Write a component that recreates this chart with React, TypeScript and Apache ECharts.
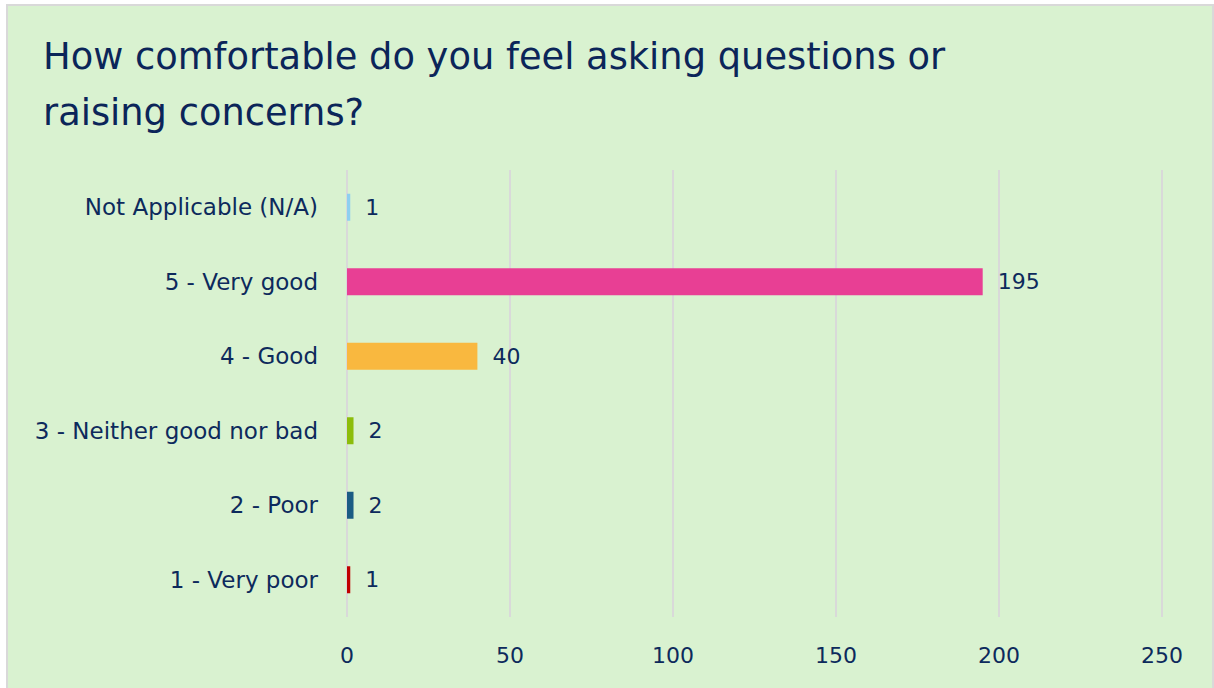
import React, { useEffect, useRef } from "react";
import * as echarts from "echarts";

const titleLines = ["How comfortable do you feel asking questions or", "raising concerns?"];
const categories = [
  "Not Applicable (N/A)",
  "5 - Very good",
  "4 - Good",
  "3 - Neither good nor bad",
  "2 - Poor",
  "1 - Very poor",
];
const values = [1, 195, 40, 2, 2, 1];
const barColors = ["#8ecff0", "#e83f94", "#f9b83f", "#8cbd0b", "#1b5c84", "#c00000"];
const xTicks = { min: 0, max: 250, interval: 50 };

const FONT = "'DejaVu Sans', sans-serif";
const NAVY = "#0d2a5c";

export default function App() {
  const ref = useRef<HTMLDivElement>(null);
  useEffect(() => {
    if (!ref.current) return;
    const chart = echarts.init(ref.current, undefined, { renderer: "svg" });
    chart.setOption({
      animation: false,
      backgroundColor: "transparent",
      textStyle: { fontFamily: FONT },
      title: {
        text: titleLines.join("\n"),
        left: 38,
        top: 23,
        textStyle: {
          fontFamily: FONT,
          fontSize: 36.8,
          fontWeight: "normal",
          color: "#0b2559",
          lineHeight: 56,
        },
      },
      grid: { left: 347, right: 52, top: 170, bottom: 71, containLabel: false },
      xAxis: {
        type: "value",
        min: xTicks.min,
        max: xTicks.max,
        interval: xTicks.interval,
        axisLine: { show: false },
        axisTick: { show: false },
        splitLine: { show: true, lineStyle: { color: "#d9d9d9", width: 2 } },
        axisLabel: { fontSize: 22, color: NAVY, margin: 27, fontFamily: FONT },
      },
      yAxis: {
        type: "category",
        inverse: true,
        data: categories,
        axisLine: { show: false },
        axisTick: { show: false },
        axisLabel: { fontSize: 23, color: NAVY, margin: 29, fontFamily: FONT },
      },
      series: [
        {
          type: "bar",
          barWidth: 27,
          data: values.map((v, i) => ({ value: v, itemStyle: { color: barColors[i] } })),
          label: {
            show: true,
            position: "right",
            distance: 15,
            fontSize: 22,
            color: NAVY,
            fontFamily: FONT,
          },
        },
      ],
    });
    return () => chart.dispose();
  }, []);
  return (
    <div style={{ position: "absolute", left: 0, top: 0, width: 1214, height: 688, overflow: "hidden", background: "#ffffff" }}>
      <div
        style={{
          position: "absolute",
          left: 6,
          top: 4,
          width: 1204,
          height: 700,
          background: "#d9f2d0",
          border: "2px solid #d9d9d9",
        }}
      />
      <div ref={ref} style={{ position: "absolute", left: 0, top: 0, width: 1214, height: 688 }} />
    </div>
  );
}
